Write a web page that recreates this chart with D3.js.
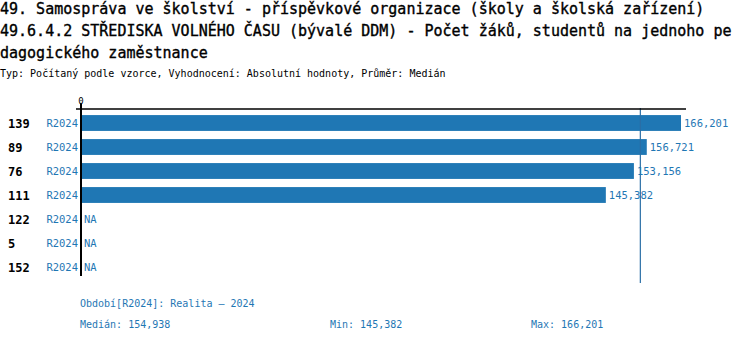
<!DOCTYPE html>
<html>
<head>
<meta charset="utf-8">
<script src="https://cdn.jsdelivr.net/npm/d3@7/dist/d3.min.js"></script>
<style>
  html, body { margin: 0; padding: 0; background: #fff; }
  svg { display: block; font-family: "DejaVu Sans Mono", monospace; }
</style>
</head>
<body>
<svg id="chart" width="750" height="342"></svg>
<script>
// Title and notes
const titleLines = [
  "49. Samospráva ve školství - příspěvkové organizace (školy a školská zařízení)",
  "49.6.4.2 STŘEDISKA VOLNÉHO ČASU (bývalé DDM) - Počet žáků, studentů na jednoho pe",
  "dagogického zaměstnance"
];
const subtitle = "Typ: Počítaný podle vzorce, Vyhodnocení: Absolutní hodnoty, Průměr: Medián";

// Rows: unit id, period, value (null = NA)
const ids = ["139", "89", "76", "111", "122", "5", "152"];
const periods = ["R2024", "R2024", "R2024", "R2024", "R2024", "R2024", "R2024"];
const values = [166.201, 156.721, 153.156, 145.382, null, null, null];

const axisTicks = [0];
const median = 154.938;
const minVal = 145.382;
const maxVal = 166.201;
const periodNote = "Období[R2024]: Realita – 2024";

const blue = "#1f77b4";
const fmt = v => d3.format(".3f")(v).replace(".", ",");

const svg = d3.select("#chart");
svg.append("rect").attr("width", 750).attr("height", 342).attr("fill", "#fff");

// Heading
svg.selectAll("text.title").data(titleLines).enter().append("text")
  .attr("class", "title")
  .attr("x", 0).attr("y", (d, i) => 14 + i * 22)
  .attr("font-size", 15).attr("fill", "#000")
  .attr("stroke", "#000").attr("stroke-width", 0.35)
  .text(d => d);

svg.append("text")
  .attr("x", 0).attr("y", 77)
  .attr("font-size", 10).attr("fill", "#000")
  .text(subtitle);

// Scales
const x = d3.scaleLinear().domain([0, d3.max(values)]).range([81, 681]);
const y = d3.scaleBand().domain(ids).range([111, 279]).paddingInner(0.34).paddingOuter(0.17);
const rowMid = id => y(id) + y.bandwidth() / 2;

const rows = ids.map((id, i) => ({ id, period: periods[i], value: values[i] }));

// Bars
svg.selectAll("rect.bar").data(rows.filter(d => d.value != null)).enter().append("rect")
  .attr("class", "bar")
  .attr("x", x(0)).attr("y", d => y(d.id))
  .attr("width", d => x(d.value) - x(0))
  .attr("height", y.bandwidth())
  .attr("fill", blue);

// Median line
svg.append("line")
  .attr("x1", x(median)).attr("x2", x(median))
  .attr("y1", 108).attr("y2", 283)
  .attr("stroke", "#2a6ea6").attr("stroke-width", 1.2);

// Axes
svg.append("line")
  .attr("x1", x(0) - 5).attr("x2", x.range()[1] + 5)
  .attr("y1", 109).attr("y2", 109)
  .attr("stroke", "#000").attr("stroke-width", 1.5);
svg.append("line")
  .attr("x1", x(0)).attr("x2", x(0))
  .attr("y1", 104).attr("y2", 276)
  .attr("stroke", "#000").attr("stroke-width", 2);
svg.selectAll("text.tick").data(axisTicks).enter().append("text")
  .attr("class", "tick")
  .attr("x", d => x(d)).attr("y", 104)
  .attr("text-anchor", "middle")
  .attr("font-size", 9).attr("fill", "#000")
  .text(d => d);

// Row labels
svg.selectAll("text.id").data(rows).enter().append("text")
  .attr("class", "id")
  .attr("x", 8).attr("y", d => rowMid(d.id) + 4.5)
  .attr("font-size", 12).attr("font-weight", "bold").attr("fill", "#000")
  .text(d => d.id);

svg.selectAll("text.period").data(rows).enter().append("text")
  .attr("class", "period")
  .attr("x", 78).attr("y", d => rowMid(d.id) + 4)
  .attr("text-anchor", "end")
  .attr("font-size", 10.5).attr("fill", blue)
  .text(d => d.period);

svg.selectAll("text.value").data(rows).enter().append("text")
  .attr("class", "value")
  .attr("x", d => d.value != null ? x(d.value) + 3 : x(0) + 3)
  .attr("y", d => rowMid(d.id) + 4)
  .attr("font-size", 10.5).attr("fill", blue)
  .text(d => d.value != null ? fmt(d.value) : "NA");

// Footer
svg.append("text")
  .attr("x", 80).attr("y", 307)
  .attr("font-size", 10).attr("fill", blue)
  .text(periodNote);

const stats = [
  { label: "Medián: " + fmt(median), x: 80 },
  { label: "Min: " + fmt(minVal), x: 330 },
  { label: "Max: " + fmt(maxVal), x: 531 }
];
svg.selectAll("text.stat").data(stats).enter().append("text")
  .attr("class", "stat")
  .attr("x", d => d.x).attr("y", 328)
  .attr("font-size", 10).attr("fill", blue)
  .text(d => d.label);
</script>
</body>
</html>
